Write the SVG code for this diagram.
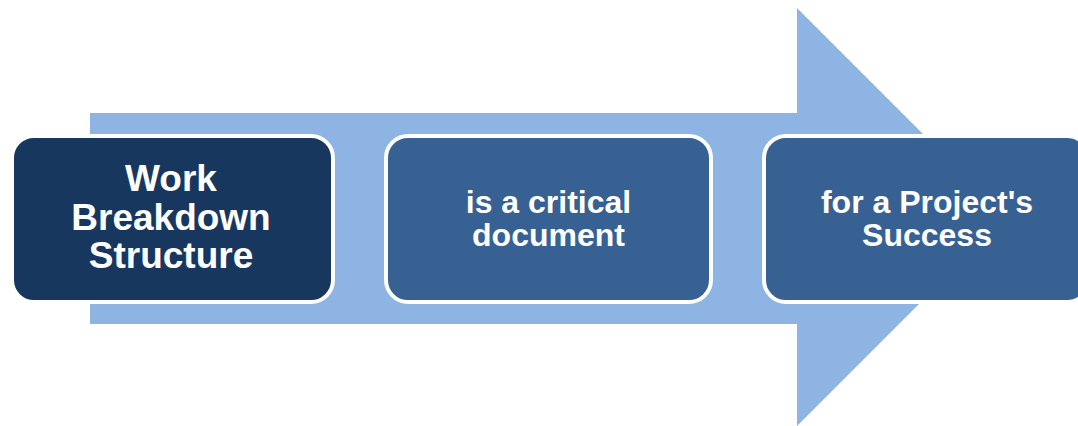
<svg xmlns="http://www.w3.org/2000/svg" width="1078" height="426" viewBox="0 0 1078 426">
<style>
.box{stroke:#ffffff;stroke-width:4}
.t{font-family:"Liberation Sans",Arial,sans-serif;font-weight:bold;fill:#ffffff;text-anchor:middle}
</style>
<rect width="1078" height="426" fill="#ffffff"/>
<g id="arrow">
<polygon points="90,113 797,113 797,8 1006,217 797,426 797,324 90,324" fill="#8eb4e3"/>
</g>
<g id="connectors"></g>
<g id="node1">
<rect class="box" x="12" y="136" width="321" height="166" rx="22" fill="#17375e"/>
<text class="t" font-size="37" x="171" y="191">Work</text>
<text class="t" font-size="37" x="171" y="230">Breakdown</text>
<text class="t" font-size="37" x="171" y="268">Structure</text>
</g>
<g id="node2">
<rect class="box" x="386" y="136" width="325" height="166" rx="22" fill="#386193"/>
<text class="t" font-size="32" x="548.5" y="213">is a critical</text>
<text class="t" font-size="32" x="548.5" y="246">document</text>
</g>
<g id="node3">
<rect class="box" x="764" y="136" width="325" height="166" rx="22" fill="#386193"/>
<text class="t" font-size="32" x="927" y="213">for a Project's</text>
<text class="t" font-size="32" x="927" y="246">Success</text>
</g>
</svg>
